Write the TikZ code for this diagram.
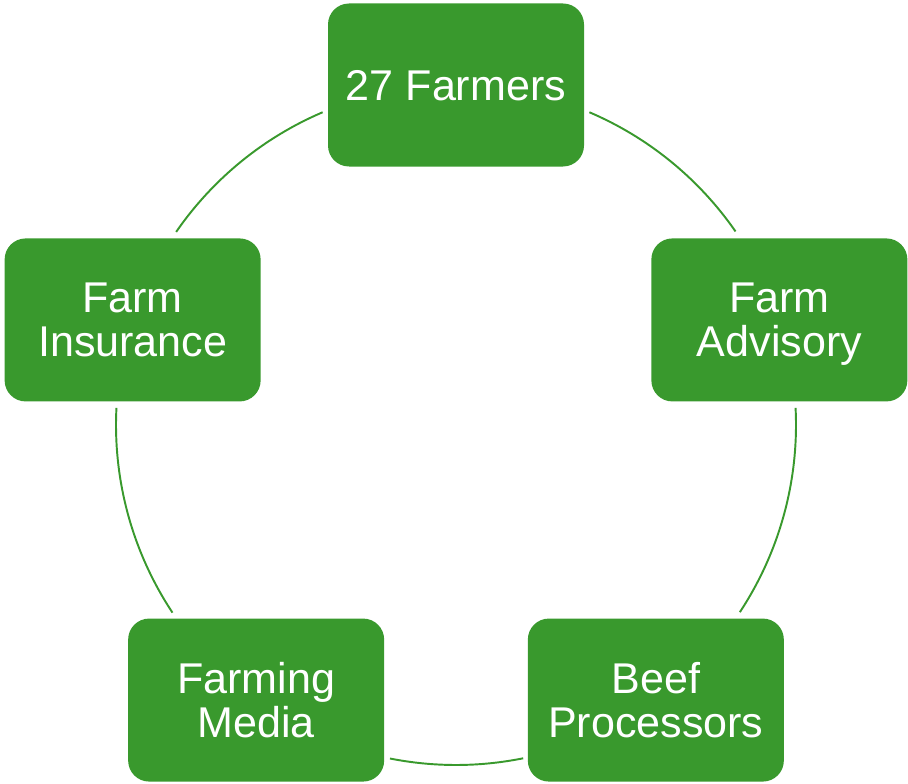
\documentclass[tikz,border=0pt]{standalone}
\usepackage{fontspec}
\setmainfont{Liberation Sans}
\usetikzlibrary{calc}
\definecolor{boxgreen}{RGB}{57,153,45}
\begin{document}
\begin{tikzpicture}[
  box/.style={fill=boxgreen, draw=none, rounded corners=0.42cm,
    minimum width=5.12cm, minimum height=3.26cm, text=white, align=center,
    font=\fontsize{24.5pt}{25.2pt}\selectfont, inner sep=0pt, text depth=0pt},
  link/.style={draw=boxgreen, line width=1.1pt}
]
\useasboundingbox (0,0) rectangle (18.16,15.66);
\coordinate (c) at (9.12,7.16);
\node[box] (top) at ($(c)+(90:6.8)$) {27 Farmers};
\node[box] (adv) at ($(c)+(18:6.8)$) {Farm\\Advisory};
\node[box] (beef) at ($(c)+(-54:6.8)$) {Beef\\Processors};
\node[box] (media) at ($(c)+(-126:6.8)$) {Farming\\Media};
\node[box] (ins) at ($(c)+(162:6.8)$) {Farm\\Insurance};
\draw[link] ($(c)+(66.9:6.8)$) arc[start angle=66.9, end angle=34.7, radius=6.8];
\draw[link] ($(c)+(2.9:6.8)$) arc[start angle=2.9, end angle=-33.4, radius=6.8];
\draw[link] ($(c)+(-78.6:6.8)$) arc[start angle=-78.6, end angle=-101.2, radius=6.8];
\draw[link] ($(c)+(-146.5:6.8)$) arc[start angle=-146.5, end angle=-182.9, radius=6.8];
\draw[link] ($(c)+(145.4:6.8)$) arc[start angle=145.4, end angle=113.1, radius=6.8];
\end{tikzpicture}
\end{document}
